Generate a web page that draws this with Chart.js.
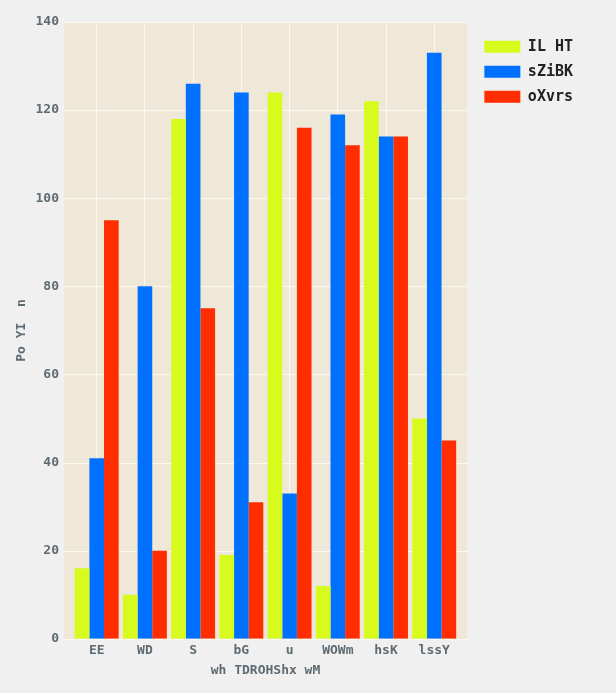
<!DOCTYPE html>
<html><head><meta charset="utf-8">
<script src="https://cdn.jsdelivr.net/npm/chart.js@4/dist/chart.umd.min.js"></script>
<style>html,body{margin:0;padding:0;background:#f0f0f0;}#wrap{width:616px;height:693px;}</style>
</head><body><div id="wrap"><canvas id="c"></canvas></div>
<script>
const categories = ["EE","WD","S","bG","u","WOWm","hsK","lssY"];
const seriesNames = ["IL HT","sZiBK","oXvrs"];
const seriesA = [16,10,118,19,124,12,122,50];
const seriesB = [41,80,126,124,33,119,114,133];
const seriesC = [95,20,75,31,116,112,114,45];
const colors = ["#d6fb1c","#0070ff","#ff2d00"];
const xTitle = "wh TDROHShx wM";
const yTitle = "Po YI  n";
const yTicks = [0,20,40,60,80,100,120,140];

const EXT = 8.6;
const bgPlugin = {
  id:'bg',
  beforeDraw(chart){
    const {ctx, chartArea:a} = chart;
    ctx.save();
    ctx.fillStyle = '#f0f0f0';
    ctx.fillRect(0,0,chart.width,chart.height);
    ctx.fillStyle = '#efe7d7';
    ctx.fillRect(a.left-EXT,a.top,a.right-a.left+2*EXT,a.bottom-a.top);
    const ys = chart.scales.y;
    ctx.strokeStyle = '#fbf8f0';
    ctx.lineWidth = 1;
    yTicks.forEach(v=>{
      const y = Math.round(ys.getPixelForValue(v))+0.5;
      ctx.beginPath(); ctx.moveTo(a.left-EXT,y); ctx.lineTo(a.right+EXT,y); ctx.stroke();
    });
    ctx.restore();
  },
  afterLayout(chart){
    if (chart.legend){ chart.legend.left += 16; chart.legend.right += 16; }
  }
};
const font = "'DejaVu Sans Mono', monospace";
const txt = '#5f6b73';
new Chart(document.getElementById('c'), {
  type:'bar',
  data:{
    labels:categories,
    datasets:[seriesA,seriesB,seriesC].map((d,i)=>({label:seriesNames[i],data:d,backgroundColor:colors[i],borderWidth:0}))
  },
  options:{
    responsive:true, maintainAspectRatio:false, animation:false,
    layout:{padding:{top:22,right:49,left:14,bottom:11}},
    datasets:{bar:{categoryPercentage:0.91,barPercentage:1}},
    plugins:{
      legend:{position:'right',align:'start',
        title:{display:true,text:' ',padding:{top:0,bottom:0},font:{size:6}},
        labels:{boxWidth:36,boxHeight:12,padding:10,color:'#222',font:{family:font,size:15,weight:'bold'}}},
      tooltip:{enabled:false}
    },
    scales:{
      x:{grid:{offset:false,color:'#fbf8f0',lineWidth:1,drawTicks:false},border:{display:false},
         ticks:{color:txt,padding:4,font:{family:font,size:13,weight:'bold'}},
         title:{display:true,text:xTitle,color:txt,padding:{top:0,bottom:4},font:{family:font,size:13,weight:'bold'}}},
      y:{min:0,max:140,grid:{display:false,drawTicks:false},border:{display:false},
         afterFit(s){ s.width = 58.6; },
         ticks:{stepSize:20,color:txt,padding:13.6,font:{family:font,size:13,weight:'bold'}},
         title:{display:true,text:yTitle,color:txt,padding:{top:0,bottom:1},font:{family:font,size:13,weight:'bold'}}}
    }
  },
  plugins:[bgPlugin]
});
</script></body></html>
